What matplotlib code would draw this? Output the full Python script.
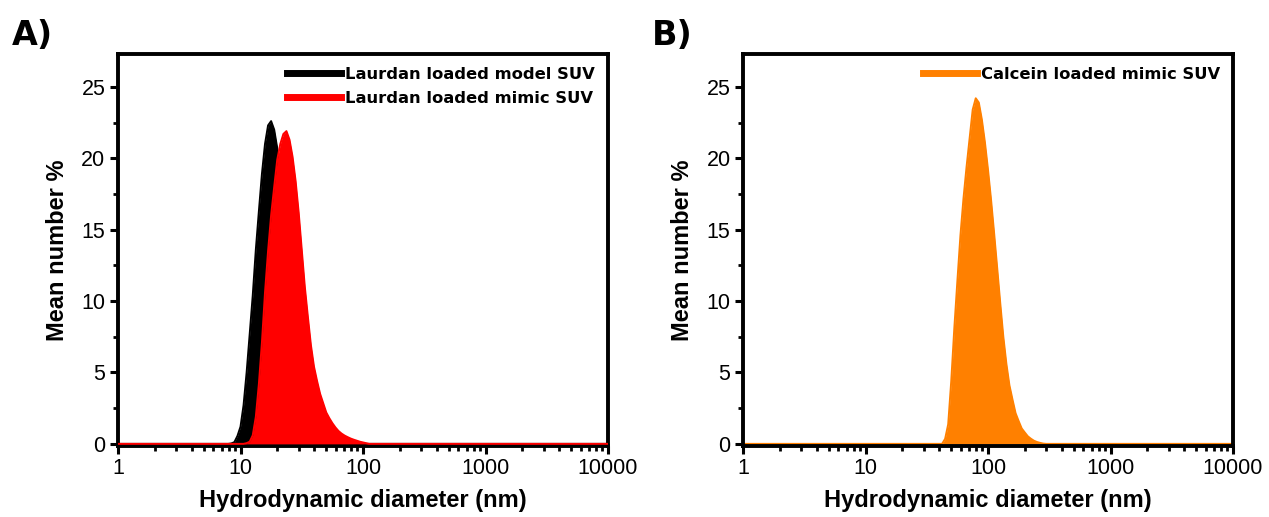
import matplotlib.pyplot as plt
from matplotlib.ticker import LogLocator, MultipleLocator, NullFormatter, FixedLocator, FixedFormatter

# DLS number distributions (diameter in nm, mean number %)
model_d = [1, 7.94, 8.41, 8.91, 9.44, 10.0, 10.59, 11.22, 11.89, 12.59, 13.34, 14.13, 14.96,
           15.85, 16.79, 17.78, 18.84, 19.95, 21.13, 22.39, 23.71, 25.12, 26.61, 28.18,
           29.85, 31.62, 33.50, 35.48, 37.58, 39.81, 42.17, 44.67, 10000]
model_n = [0, 0, 0.03, 0.12, 0.55, 1.2, 2.7, 5.0, 7.7, 10.4, 13.6, 16.3, 18.9,
           21.0, 22.3, 22.6, 22.0, 20.7, 18.8, 16.4, 13.9, 11.0, 8.5, 5.9,
           3.7, 2.0, 1.0, 0.45, 0.15, 0.05, 0.01, 0, 0]

mimic_d = [1, 10.0, 10.59, 11.22, 11.89, 12.59, 13.34, 14.13, 14.96, 15.85, 16.79, 17.78,
           18.84, 19.95, 21.13, 22.39, 23.71, 25.12, 26.61, 28.18, 29.85, 31.62, 33.50,
           35.48, 37.58, 39.81, 42.17, 44.67, 47.32, 50.12, 53.09, 56.23, 59.57, 63.10,
           66.83, 70.79, 74.99, 79.43, 84.14, 89.13, 94.41, 100.0, 105.9, 112.2, 10000]
mimic_n = [0, 0, 0, 0.05, 0.15, 0.6, 1.9, 4.2, 7.1, 10.6, 13.5, 16.0,
           18.0, 19.9, 21.0, 21.7, 21.9, 21.3, 20.1, 18.4, 16.2, 13.6, 11.0,
           8.9, 6.9, 5.4, 4.4, 3.5, 2.85, 2.2, 1.8, 1.45, 1.15, 0.9,
           0.72, 0.58, 0.47, 0.37, 0.29, 0.22, 0.15, 0.1, 0.05, 0, 0]

calcein_d = [1, 39.81, 42.17, 44.67, 47.32, 50.12, 53.09, 56.23, 59.57, 63.10, 66.83, 70.79,
             74.99, 79.43, 84.14, 89.13, 94.41, 100.0, 105.9, 112.2, 118.9, 125.9, 133.4,
             141.3, 149.6, 158.5, 167.9, 177.8, 188.4, 199.5, 211.3, 223.9, 237.1, 251.2,
             266.1, 281.8, 298.5, 10000]
calcein_n = [0, 0, 0, 0.35, 1.37, 4.4, 8.1, 11.4, 14.6, 17.2, 19.4, 21.4,
             23.4, 24.2, 23.9, 22.7, 21.1, 19.2, 17.1, 14.75, 12.3, 9.85, 7.5,
             5.6, 4.1, 3.1, 2.15, 1.6, 1.08, 0.8, 0.53, 0.36, 0.22, 0.13,
             0.07, 0.02, 0, 0]

x_ticks = [1, 10, 100, 1000, 10000]
x_ticklabels = ['1', '10', '100', '1000', '10000']
y_ticks = [0, 5, 10, 15, 20, 25]

plt.rcParams['font.family'] = ['Liberation Sans', 'DejaVu Sans']

fig = plt.figure(figsize=(12.69, 5.17), dpi=100)
W, H = 1269, 517
ax_a = fig.add_axes([118 / W, (H - 446) / H, 490 / W, 392 / H])
ax_b = fig.add_axes([743 / W, (H - 446) / H, 490 / W, 392 / H])


def style_axes(ax):
    ax.set_xscale('log')
    ax.set_xlim(1, 10000)
    ax.set_ylim(-0.15, 27.3)
    ax.xaxis.set_major_locator(FixedLocator(x_ticks))
    ax.xaxis.set_major_formatter(FixedFormatter(x_ticklabels))
    ax.xaxis.set_minor_locator(LogLocator(base=10, subs=range(2, 10), numticks=20))
    ax.xaxis.set_minor_formatter(NullFormatter())
    ax.set_yticks(y_ticks)
    ax.yaxis.set_minor_locator(MultipleLocator(2.5))
    for s in ax.spines.values():
        s.set_linewidth(2.8)
    ax.tick_params(which='major', direction='out', length=6, width=2.2,
                   labelsize=15.5, pad=3, top=False, right=False)
    ax.tick_params(which='minor', direction='out', length=3.5, width=2.0,
                   top=False, right=False)
    ax.set_xlabel('Hydrodynamic diameter (nm)', fontsize=17, fontweight='bold', labelpad=7)
    ax.set_ylabel('Mean number %', fontsize=17, fontweight='bold', labelpad=9)


def draw_dist(ax, d, n, color, label, z):
    # fill and outline share a z-level so later series sit on top of earlier ones
    ax.fill_between(d, 0, n, color=color, linewidth=0, zorder=z)
    ax.plot(d, n, color=color, linewidth=1.4, label=label, zorder=z + 0.1)


draw_dist(ax_a, model_d, model_n, 'black', 'Laurdan loaded model SUV', 2)
draw_dist(ax_a, mimic_d, mimic_n, '#ff0000', 'Laurdan loaded mimic SUV', 3)
draw_dist(ax_b, calcein_d, calcein_n, '#ff8000', 'Calcein loaded mimic SUV', 2)

for ax in (ax_a, ax_b):
    style_axes(ax)
    leg = ax.legend(loc='upper right', frameon=False, handlelength=3.3, handletextpad=0.25,
                    labelspacing=0.55, borderaxespad=0.4,
                    prop={'family': 'DejaVu Sans', 'weight': 'bold', 'size': 11.8})
    for line in leg.get_lines():
        line.set_linewidth(5)

fig.text(12 / W, 1 - 45 / H, 'A)', fontsize=24, fontweight='bold', family='DejaVu Sans')
fig.text(652 / W, 1 - 45 / H, 'B)', fontsize=24, fontweight='bold', family='DejaVu Sans')

fig.savefig('out.png', dpi=100)
